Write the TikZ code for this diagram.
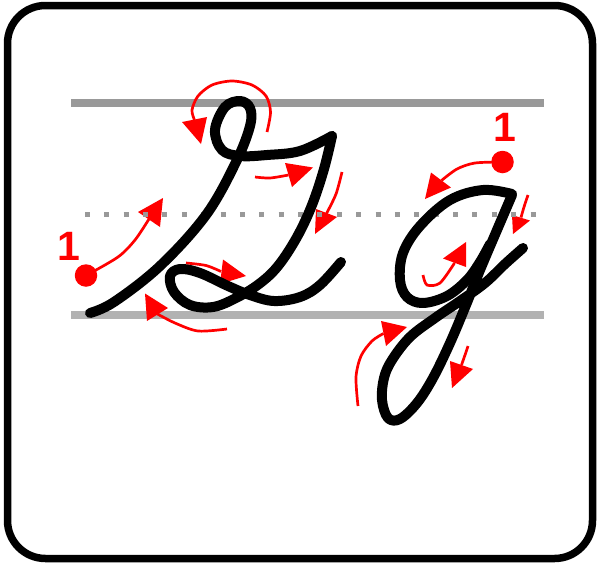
\documentclass[tikz,border=0pt]{standalone}
\usepackage{fontspec}
\setmainfont{Liberation Sans}
\begin{document}
\begin{tikzpicture}[x=1pt,y=-1pt,
  frame/.style={draw=black,line width=7.5pt,rounded corners=38pt},
  guidetop/.style={draw=black!40,line width=8pt},
  guidebot/.style={draw=black!30,line width=8pt},
  guidemid/.style={draw=black!40,line width=5pt,dash pattern=on 5pt off 14.37pt},
  pen/.style={draw=black,line width=10pt,line cap=round,line join=round},
  redline/.style={draw=red,line width=2.7pt},
  redhead/.style={fill=red},
  startdot/.style={circle,fill=red,inner sep=0pt,minimum size=22.5pt},
  numlabel/.style={text=red,font=\fontsize{41}{41}\selectfont\bfseries,inner sep=0pt}]
\useasboundingbox (0,0) rectangle (597,563);
\fill[white] (0,0) rectangle (597,563);
% frame
\draw[frame] (7.5,5.5) rectangle (592.5,558.5);
% guide lines
\draw[guidetop] (71,102.5) -- (544,102.5);
\draw[guidebot] (71,314.5) -- (544,314.5);
% red stroke hints
% Q
\node[startdot] (qdot) at (86,275.5) {};
\node[numlabel,anchor=base] (qone) at (68.5,260.5) {1};
\draw[redline] plot[smooth] coordinates {(qdot.center) (118,257) (135,240) (149,219)};
\fill[redhead] (138,212) -- (160,227) -- (163,198) -- cycle;
\draw[redline] plot[smooth] coordinates {(267,132) (270.5,112) (266,96) (252,85) (232,81) (212,85) (198,96) (192,110) (194.5,120)};
\fill[redhead] (182,122) -- (207,117) -- (201,144) -- cycle;
\draw[redline] plot[smooth] coordinates {(255,177) (270,178) (288.5,175)};
\fill[redhead] (285,163) -- (292,187) -- (313,167.5) -- cycle;
\draw[redline] plot[smooth] coordinates {(342,172) (336,194) (326.5,213.5)};
\fill[redhead] (316,209) -- (337,217) -- (315,234) -- cycle;
\draw[redline] plot[smooth] coordinates {(186,263) (206,265.5) (221,271.5)};
\fill[redhead] (223,259.5) -- (220,284) -- (246,276) -- cycle;
\draw[redline] plot[smooth] coordinates {(227,329) (198,331) (175,323) (157.5,314)};
\fill[redhead] (147,321) -- (168,308) -- (145,293.5) -- cycle;
% g
\node[startdot] (gdot) at (502.5,162) {};
\node[numlabel,anchor=base] (gone) at (505,141.5) {1};
\draw[redline] plot[smooth] coordinates {(gdot.center) (475,163) (457,169) (441.5,180.5)};
\fill[redhead] (431,172.5) -- (451,187.5) -- (425,199) -- cycle;
\draw[redline] plot[smooth] coordinates {(528,195) (524,207) (521,217.5)};
\fill[redhead] (512,215) -- (530,220.5) -- (513,234) -- cycle;
\draw[redline] plot[smooth] coordinates {(423,275) (427,285) (440,283) (454.5,263)};
\fill[redhead] (443,258.5) -- (466,267) -- (466,242) -- cycle;
\draw[redline] plot[smooth] coordinates {(358,406) (356,377) (361,356) (372,341) (383.5,333.5)};
\fill[redhead] (381,321) -- (386,346) -- (407,327) -- cycle;
\draw[redline] plot[smooth] coordinates {(468,346) (465,355) (461.5,365)};
\fill[redhead] (450,361) -- (473,369) -- (452,388) -- cycle;
% dotted midline
\draw[guidemid] (85,214) -- (536,214);
% letter Q
\draw[pen] plot[smooth,tension=0.6] coordinates {(90,313) (114,302) (160,266) (206,215) (236,162) (250,126) (250,108) (240,101) (225,107) (215,130) (222,150) (240,156) (267,155) (300,151) (332,136)};
\draw[pen] plot[smooth,tension=0.6] coordinates {(332,136) (324,169) (312,205) (297,237) (278,266) (259,284) (236,298) (213,307) (190,305) (174,292) (170,276) (180,269) (200,273) (228,286) (250,295) (274,301) (300,297) (320,285) (341,262)};
% letter g
\draw[pen] plot[smooth,tension=0.6] coordinates {(512,194) (483,190) (450,200) (420,226) (403,253) (400,280) (407,297) (423,303) (447,296) (467,280) (480,262) (490,244)};
\draw[pen] plot[smooth,tension=0.6] coordinates {(512,195) (497,230) (480,270) (466,305) (450,343) (433,378) (417,403) (400,419) (388,418) (382,400) (384,378) (392,360) (410,337) (435,318) (460,301) (485,283) (505,264) (523,248)};
\end{tikzpicture}
\end{document}
